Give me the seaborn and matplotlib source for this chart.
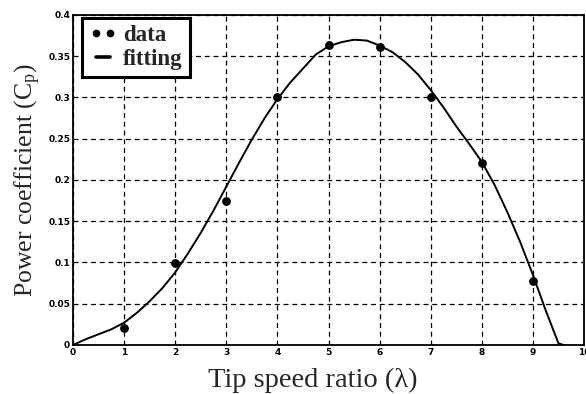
import matplotlib
matplotlib.use("Agg")
import matplotlib.pyplot as plt
from matplotlib.lines import Line2D
import pandas as pd
import seaborn as sns

# Measured power coefficient at integer tip speed ratios
tsr_data = [1, 2, 3, 4, 5, 6, 7, 8, 9]
cp_data = [0.021, 0.099, 0.175, 0.300, 0.363, 0.361, 0.300, 0.221, 0.077]

# Fitted curve
tsr_fit = [0.00, 0.25, 0.50, 0.75, 1.00, 1.25, 1.50, 1.75, 2.00, 2.25, 2.50,
           2.75, 3.00, 3.25, 3.50, 3.75, 4.00, 4.25, 4.50, 4.75, 5.00, 5.25,
           5.50, 5.75, 6.00, 6.25, 6.50, 6.75, 7.00, 7.25, 7.50, 7.75, 8.00,
           8.25, 8.50, 8.75, 9.00, 9.25, 9.50, 9.60]
cp_fit = [0.000, 0.007, 0.013, 0.019, 0.027, 0.039, 0.053, 0.069, 0.088, 0.111,
          0.136, 0.163, 0.192, 0.221, 0.249, 0.275, 0.298, 0.318, 0.335, 0.352,
          0.362, 0.367, 0.370, 0.369, 0.363, 0.355, 0.343, 0.328, 0.309, 0.288,
          0.265, 0.244, 0.222, 0.194, 0.161, 0.125, 0.085, 0.042, 0.002, 0.000]

x_ticks = [0, 1, 2, 3, 4, 5, 6, 7, 8, 9, 10]
y_ticks = [0, 0.05, 0.1, 0.15, 0.2, 0.25, 0.3, 0.35, 0.4]
y_tick_labels = ["0", "0.05", "0.1", "0.15", "0.2", "0.25", "0.3", "0.35", "0.4"]

sns.set_style("white")

fig = plt.figure(figsize=(5.86, 3.94), dpi=100)
ax = fig.add_axes([0.1246, 0.1244, 0.8720, 0.8376])

df_fit = pd.DataFrame({"tsr": tsr_fit, "cp": cp_fit})
df_data = pd.DataFrame({"tsr": tsr_data, "cp": cp_data})

sns.lineplot(data=df_fit, x="tsr", y="cp", ax=ax, color="black", lw=1.4,
             sort=False, zorder=3)
sns.scatterplot(data=df_data, x="tsr", y="cp", ax=ax, color="black", s=40,
                edgecolor="black", linewidth=0, zorder=4)

ax.set_xlim(0, 10)
ax.set_ylim(0, 0.4)
ax.set_xticks(x_ticks)
ax.set_xticklabels([str(t) for t in x_ticks])
ax.set_yticks(y_ticks)
ax.set_yticklabels(y_tick_labels)

ax.grid(True, color="black", linestyle=(0, (4, 3)), linewidth=0.9)
ax.set_axisbelow(True)
for s in ax.spines.values():
    s.set_color("black")
    s.set_linewidth(1.3)

ax.tick_params(axis="both", direction="in", length=3, width=0.8,
               labelsize=6.5, pad=2, colors="black")
for lab in ax.get_xticklabels() + ax.get_yticklabels():
    lab.set_fontweight("bold")
    lab.set_family("DejaVu Sans")

serif = ["Liberation Serif", "DejaVu Serif"]
ax.set_xlabel("Tip speed ratio (λ)", family=serif, fontsize=20.5)
ax.xaxis.set_label_coords(0.47, -0.068)
ax.xaxis.label.set_verticalalignment("top")
ax.set_ylabel(r"Power coefficient (C$\mathregular{_p}$)", family=serif,
              fontsize=18.5, labelpad=4)

handles = [
    Line2D([], [], color="black", marker="o", linestyle="none", markersize=4.5),
    Line2D([], [], color="black", lw=2.6),
]
leg = ax.legend(handles, ["data", "fitting"], loc="upper left",
                bbox_to_anchor=(0.0176, 0.991), borderaxespad=0, numpoints=2,
                prop={"family": serif, "weight": "bold", "size": 16.5},
                frameon=True, fancybox=False, edgecolor="black",
                handlelength=1.2, handletextpad=0.3, borderpad=0.3,
                labelspacing=0.12)
leg.get_frame().set_linewidth(2.2)
leg.get_frame().set_alpha(1)

fig.savefig("out.png", dpi=100)
